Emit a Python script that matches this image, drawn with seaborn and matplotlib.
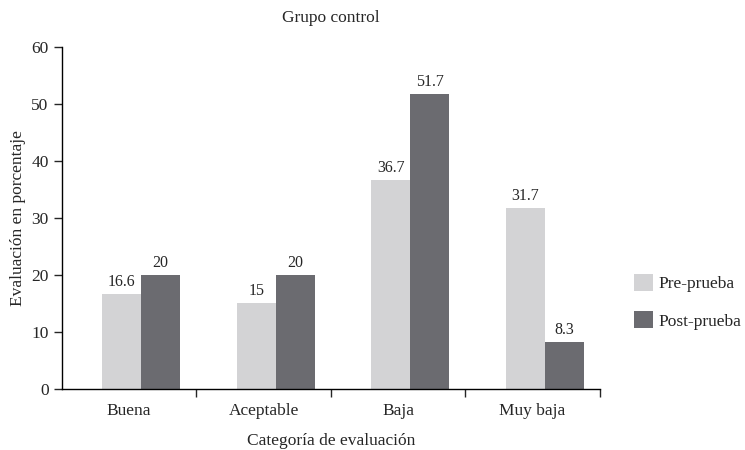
import matplotlib
matplotlib.use("Agg")
import matplotlib.pyplot as plt
import seaborn as sns
import pandas as pd
from matplotlib.ticker import FixedLocator

categories = ["Buena", "Aceptable", "Baja", "Muy baja"]
pre_values = [16.6, 15, 36.7, 31.7]
post_values = [20, 20, 51.7, 8.3]
series = ["Pre-prueba", "Post-prueba"]
yticks = [0, 10, 20, 30, 40, 50, 60]

df = pd.DataFrame({
    "cat": categories * 2,
    "val": pre_values + post_values,
    "serie": [series[0]] * 4 + [series[1]] * 4,
})

sns.set_style("white")
plt.rcParams["font.family"] = ["Liberation Serif", "DejaVu Serif"]

fig = plt.figure(figsize=(7.45, 4.5), dpi=100)
ax = fig.add_axes([0.083, 0.1356, 0.722, 0.76])

sns.barplot(data=df, x="cat", y="val", hue="serie", order=categories,
            hue_order=series, palette=["#d3d3d5", "#6b6b70"], width=0.58,
            saturation=1, ax=ax, edgecolor="none", linewidth=0)

# groups sit slightly right of category centres in the reference
shift = 0.09
for cont in ax.containers:
    for p in cont.patches:
        p.set_x(p.get_x() + shift)

for cont in ax.containers:
    labels = [("%g" % v) for v in cont.datavalues]
    ax.bar_label(cont, labels=labels, padding=3, fontsize=11.5)

ax.set_xlim(-0.5, 3.5)
ax.set_ylim(0, 60)
ax.set_yticks(yticks)
ax.set_yticklabels([str(t) for t in yticks], fontsize=12.5)
ax.set_xticks(range(len(categories)))
ax.set_xticklabels(categories, fontsize=12.5)
ax.tick_params(axis="x", which="major", length=0, pad=10)
ax.xaxis.set_minor_locator(FixedLocator([0.5, 1.5, 2.5, 3.5]))
ax.tick_params(axis="x", which="minor", length=6, width=1, direction="out", bottom=True)
ax.tick_params(axis="y", length=6, width=1, direction="out", left=True)

for s in ["top", "right"]:
    ax.spines[s].set_visible(False)
for s in ["left", "bottom"]:
    ax.spines[s].set_color("black")
    ax.spines[s].set_linewidth(1)

ax.set_xlabel("Categoría de evaluación", fontsize=12.5, labelpad=10)
ax.set_ylabel("Evaluación en porcentaje", fontsize=12.5, labelpad=4)
ax.set_title("Grupo control", fontsize=12.5, pad=18)

leg = ax.legend(loc="center left", bbox_to_anchor=(1.045, 0.255), frameon=False,
                fontsize=12.5, handlelength=1.1, handleheight=1.1,
                labelspacing=1.1, handletextpad=0.3, borderaxespad=0.2)

fig.savefig("out.png", dpi=100)
